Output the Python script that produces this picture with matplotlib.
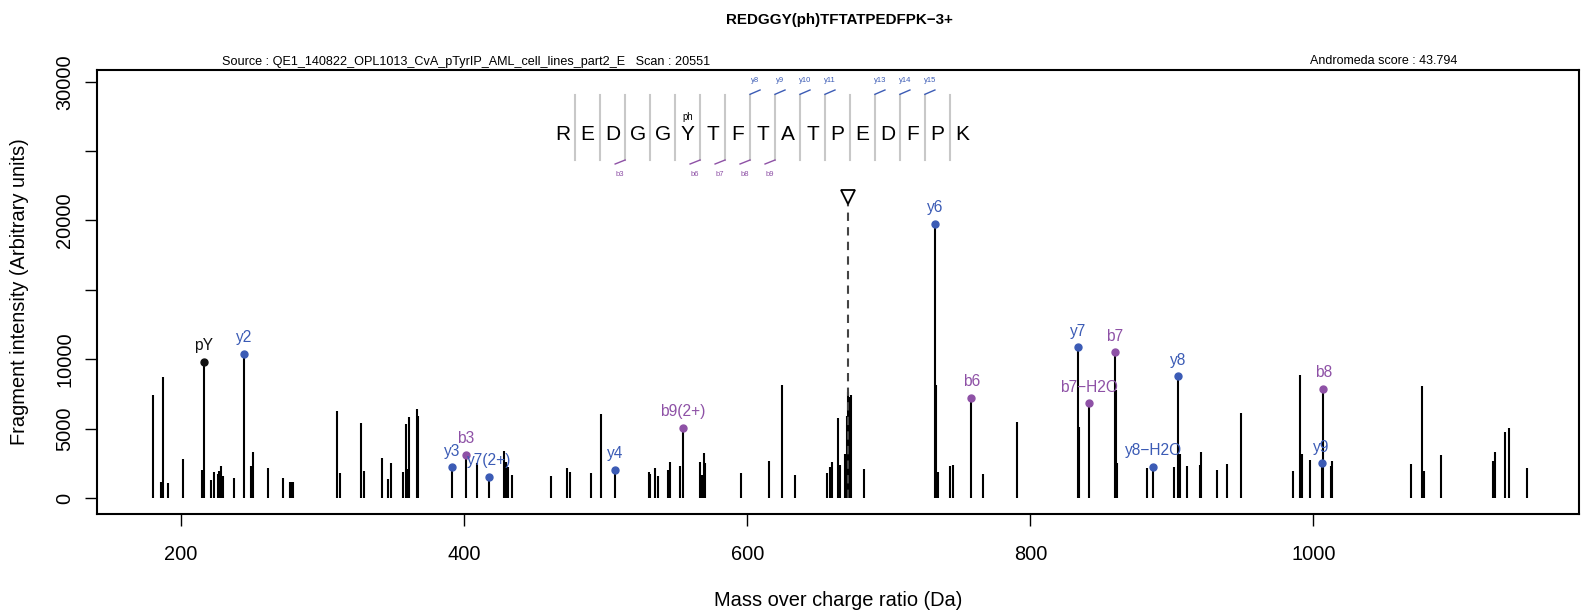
import matplotlib
matplotlib.use('Agg')
import matplotlib.pyplot as plt
from matplotlib.lines import Line2D

plt.rcParams['font.family'] = ['Liberation Sans', 'DejaVu Sans']

W, H = 1581, 611

# unannotated fragment peaks (m/z, intensity)
peak_mz = [180.0, 185.9, 187.1, 191.0, 201.2, 215.1, 221.0, 223.3, 225.9, 226.8,
           228.0, 229.4, 237.2, 249.5, 251.1, 261.2, 272.3, 277.0, 278.2, 279.3,
           310.2, 312.1, 327.0, 329.1, 342.2, 346.3, 348.4, 357.1, 359.0, 359.9,
           361.1, 366.7, 367.6, 409.3, 428.2, 429.5, 431.2, 433.8, 461.4, 472.5,
           474.6, 489.4, 496.5, 530.4, 531.3, 534.9, 537.0, 544.2, 545.4, 552.6,
           566.8, 567.9, 569.5, 570.3, 595.6, 615.4, 624.4, 633.5, 656.3, 658.8,
           659.9, 664.0, 665.6, 669.4, 670.3, 671.2, 671.8, 673.3, 682.4, 733.4,
           734.6, 742.9, 745.5, 766.9, 790.9, 834.6, 860.4, 861.5, 882.7, 901.7,
           905.8, 910.8, 919.6, 920.8, 931.9, 939.0, 949.0, 985.9, 990.8, 991.7,
           997.3, 1012.2, 1013.4, 1069.1, 1077.0, 1078.2, 1089.9, 1127.1, 1128.0,
           1135.1, 1138.0, 1151.2]
peak_int = [7450, 1150, 8740, 1080, 2810, 2020, 1320, 1850, 1700, 1920,
            2330, 1560, 1440, 2330, 3330, 2140, 1420, 1180, 1160, 1160,
            6260, 1800, 5440, 1920, 2900, 1350, 2500, 1870, 5300, 2090,
            5830, 6440, 5920, 2500, 3360, 2600, 2250, 1660, 1590, 2140,
            1870, 1780, 6060, 1900, 1750, 2140, 1610, 1990, 2570, 2320,
            2570, 1670, 3260, 2510, 1780, 2690, 8170, 1670, 1790, 2260,
            2590, 5750, 2380, 3170, 5900, 7620, 7300, 7430, 2110, 8170,
            1870, 2280, 2350, 1700, 5490, 5100, 7790, 2540, 2180, 2230,
            3140, 2280, 2400, 3310, 1990, 2420, 6160, 1920, 8840, 3170,
            2710, 2280, 2640, 2450, 8070, 1970, 3100, 2640, 3310,
            4770, 5060, 2180]

# annotated ions
ion_labels = ['pY', 'y2', 'y3', 'b3', 'y7(2+)', 'y4', 'b9(2+)', 'y6', 'b6', 'y7',
              'b7\u2212H2O', 'b7', 'y8\u2212H2O', 'y8', 'y9', 'b8']
ion_mz = [216.0, 244.3, 391.5, 401.3, 417.4, 506.4, 554.5, 732.7, 758.4, 833.7,
          841.6, 859.5, 886.8, 904.6, 1005.8, 1006.9]
ion_int = [9820, 10400, 2210, 3120, 1540, 2040, 5080, 19760, 7230, 10880,
           6830, 10490, 2250, 8770, 2500, 7880]
ion_type = ['i', 'y', 'y', 'b', 'y', 'y', 'b', 'y', 'b', 'y',
            'b', 'b', 'y', 'y', 'y', 'b']

precursor_mz = 671.0
precursor_int = 21700

sequence = 'REDGGYTFTATPEDFPK'
b_breaks = [3, 6, 7, 8, 9]
y_breaks = [8, 9, 10, 11, 13, 14, 15]

colors = {'y': '#3b5bb5', 'b': '#8e51a6', 'i': '#111111'}

fig = plt.figure(figsize=(W / 100, H / 100), dpi=100)
ax = fig.add_axes([97 / W, 1 - 514 / H, 1482 / W, 444 / H])

ax.vlines(peak_mz, 0, peak_int, color='black', lw=1.5)
ax.vlines(ion_mz, 0, ion_int, color='black', lw=1.5)
for lab, mz, it, t in zip(ion_labels, ion_mz, ion_int, ion_type):
    ax.plot(mz, it, 'o', color=colors[t], ms=5, zorder=3)
    ax.annotate(lab, (mz, it), xytext=(0, 11.5), textcoords='offset points',
                ha='center', va='center', color=colors[t], fontsize=11.2)

ax.plot([precursor_mz, precursor_mz], [0, precursor_int], ls=(0, (4, 3)),
        color='#444444', lw=1.5, zorder=2)
ax.plot(precursor_mz, precursor_int, marker='v', ms=10, mfc='white',
        mec='black', mew=1.3, zorder=4)

ax.set_xlim(140.66, 1187.6)
ax.set_ylim(-1153, 30843)
ax.set_xticks([200, 400, 600, 800, 1000])
yt = list(range(0, 30001, 5000))
ax.set_yticks(yt)
ax.set_yticklabels(['' if v in (15000, 25000) else str(v) for v in yt],
                   rotation=90, va='center')
ax.tick_params(direction='out', length=8.5, width=1, labelsize=14.4)
ax.tick_params(axis='y', pad=8)
ax.tick_params(axis='x', pad=14)
for s in ax.spines.values():
    s.set_linewidth(1.5)

ax.set_xlabel('Mass over charge ratio (Da)', fontsize=14.4)
ax.xaxis.set_label_coords(0.5, (514 - 600) / 444)
ax.set_ylabel('Fragment intensity (Arbitrary units)', fontsize=14.4)
ax.yaxis.set_label_coords((20 - 97) / 1482, 0.5)
ax.xaxis.label.set_va('center')
ax.yaxis.label.set_va('center')

# header texts
fig.text(839 / W, 1 - 20 / H, 'REDGGY(ph)TFTATPEDFPK\u22123+', ha='center',
         va='center', fontsize=10.9, fontweight='bold')
fig.text(222 / W, 1 - 61.5 / H,
         'Source : QE1_140822_OPL1013_CvA_pTyrIP_AML_cell_lines_part2_E   Scan : 20551',
         ha='left', va='center', fontsize=9.05)
fig.text(1457 / W, 1 - 61.5 / H, 'Andromeda score : 43.794', ha='right',
         va='center', fontsize=9.0)


# peptide sequence with fragment marks (pixel layout)
def fx(x):
    return x / W


def fy(y):
    return 1 - y / H


x0, step = 562.7, 24.98
for i, aa in enumerate(sequence):
    fig.text(fx(x0 + i * step), fy(134), aa, ha='center', va='center', fontsize=15)
    if i < len(sequence) - 1:
        lx = x0 + (i + 0.5) * step
        fig.add_artist(Line2D([fx(lx), fx(lx)], [fy(95), fy(160)],
                              color='#c8c8c8', lw=1.5, transform=fig.transFigure))
fig.text(fx(x0 + 5 * step), fy(116.7), 'ph', ha='center', va='center', fontsize=6.9)

for n in b_breaks:
    lx = x0 + (n - 0.5) * step
    fig.add_artist(Line2D([fx(lx - 10), fx(lx)], [fy(164), fy(160)],
                          color=colors['b'], lw=1, transform=fig.transFigure))
    fig.text(fx(lx - 5), fy(174.3), 'b%d' % n, ha='center', va='center',
             fontsize=5.5, color=colors['b'])
for n in y_breaks:
    lx = x0 + (n - 0.5) * step
    fig.add_artist(Line2D([fx(lx), fx(lx + 10)], [fy(94.3), fy(90)],
                          color=colors['y'], lw=1, transform=fig.transFigure))
    fig.text(fx(lx + 5), fy(80.7), 'y%d' % n, ha='center', va='center',
             fontsize=5.5, color=colors['y'])

fig.savefig('out.png', dpi=100)
